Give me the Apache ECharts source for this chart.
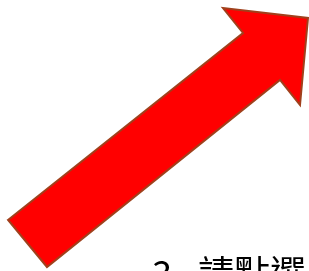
<!DOCTYPE html>
<html>
<head>
<meta charset="utf-8">
<script src="https://cdn.jsdelivr.net/npm/echarts@6/dist/echarts.min.js"></script>
<style>
  html, body { margin: 0; padding: 0; background: #fff; }
  #chart { width: 309px; height: 271px; }
</style>
</head>
<body>
<div id="chart"></div>
<script>
// arrow outline vertices (x, y) in chart units, y grows downward
const arrowX = [8, 243, 223, 308, 300, 280, 47];
const arrowY = [220, 33, 8, 18, 105, 80, 267];
const caption = '3.  請點選';

const chart = echarts.init(document.getElementById('chart'));

const points = arrowX.map((x, i) => [x, arrowY[i]]);

chart.setOption({
  animation: false,
  title: {
    text: caption,
    left: 147,
    top: 250,
    textStyle: {
      fontFamily: 'Noto Sans CJK TC',
      fontSize: 36,
      fontWeight: 'normal',
      color: '#000'
    }
  },
  grid: { left: 0, right: 0, top: 0, bottom: 0 },
  xAxis: { type: 'value', min: 0, max: 309, show: false },
  yAxis: { type: 'value', min: 0, max: 271, inverse: true, show: false },
  series: [
    {
      type: 'custom',
      data: [0],
      renderItem: function (params, api) {
        return {
          type: 'polygon',
          shape: { points: points.map(p => api.coord(p)) },
          style: { fill: '#ff0000', stroke: '#a0401c', lineWidth: 2 }
        };
      }
    }
  ]
});
</script>
</body>
</html>
